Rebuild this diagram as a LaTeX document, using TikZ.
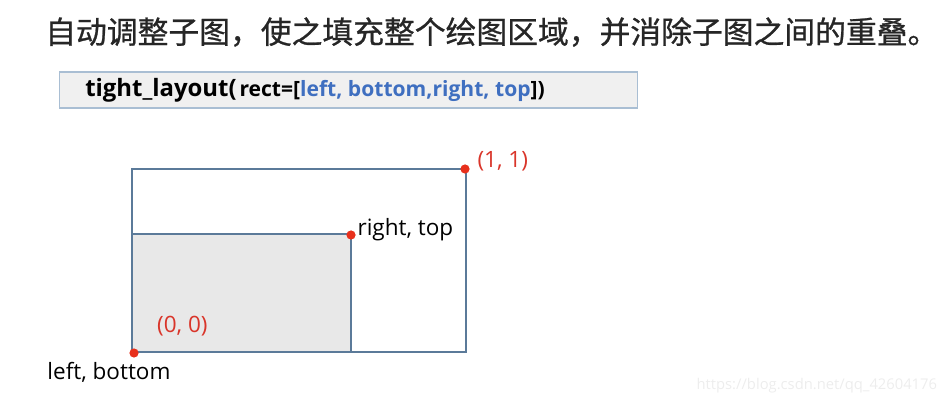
\documentclass[tikz,border=0pt]{standalone}
\usepackage{fontspec}
\setmainfont{Open Sans}
\newfontfamily\cjk[FakeBold=0.8]{Noto Sans CJK SC}
\usetikzlibrary{positioning}
\definecolor{framecol}{HTML}{5B7A99}
\definecolor{dotred}{HTML}{E8301C}
\definecolor{labred}{HTML}{D9352A}
\definecolor{codeblue}{HTML}{3F6FC0}
\definecolor{boxline}{HTML}{A9BED3}
\definecolor{titlegray}{HTML}{262626}
\tikzstyle{frame} = [draw=framecol, line width=1.3pt]
\tikzstyle{dot} = [circle, fill=dotred, inner sep=0pt, minimum size=0.23cm]
\tikzstyle{codebox} = [rectangle, draw=boxline, fill=gray!12, line width=0.8pt,
    minimum width=14.425cm, minimum height=0.9cm]
\tikzstyle{lab} = [inner sep=1pt, font=\fontsize{16}{18}\selectfont]
\tikzstyle{redlab} = [lab, text=labred]

\begin{document}
\begin{tikzpicture}[x=0.025cm, y=-0.025cm]
 \useasboundingbox (0,0) rectangle (952,406);
 % title and code line
   \node[anchor=west, inner sep=0pt, text=titlegray] (title) at (45,32)
     {\cjk\fontsize{21.9}{24}\selectfont 自动调整子图，使之填充整个绘图区域，并消除子图之间的重叠。};
   \node[codebox] (code) at (348.5,90) {};
   \node[anchor=west, inner sep=0pt] (call) at (85,90)
     {\bfseries\fontsize{17}{19}\selectfont tight\_layout(\hspace{2pt}%
      \fontsize{15}{17}\selectfont rect=[\textcolor{codeblue}{left,\ bottom,right,\ top}])};

 % frames
   \coordinate (lb0) at (132,352);
   \coordinate (rt0) at (466,169);
   \coordinate (rt1) at (351,234);
   \path[frame, fill=gray!18] (lb0) rectangle (rt1);
   \path[frame] (lb0) rectangle (rt0);

 % corner points
   \node[dot] (p00) at (134,353) {};
   \node[dot] (p11) at (465,169) {};
   \node[dot] (prt) at (351,235) {};
   \node[redlab, right=0.15cm of p11, yshift=0.2cm] (t11) {(1, 1)};
   \node[lab, right=0cm of prt, yshift=0.125cm] (trt) {right, top};
   \node[redlab, above right=0.3cm and 0.45cm of p00] (t00) {(0, 0)};
   \node[lab, below=0.08cm of p00, xshift=-0.625cm] (tlb) {left, bottom};

   \node[anchor=east, text=gray!14, font=\fontsize{10.5}{12}\selectfont] (mark) at (942,386) {https://blog.csdn.net/qq\_42604176};
\end{tikzpicture}
\end{document}
